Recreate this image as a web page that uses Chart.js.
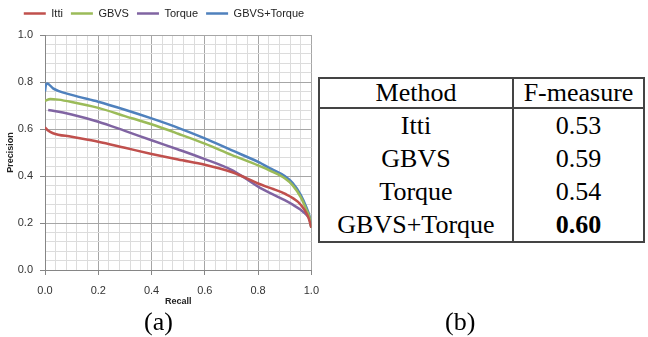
<!DOCTYPE html>
<html>
<head>
<meta charset="utf-8">
<script src="https://cdn.jsdelivr.net/npm/chart.js@4.4.1/dist/chart.umd.min.js"></script>
<style>
body { margin: 0; background: #fff; width: 648px; height: 337px; overflow: hidden; position: relative; }
#chartbox { position: absolute; left: 0; top: 0; width: 328px; height: 312px; }
#results { position: absolute; left: 318px; top: 77px; border-collapse: collapse; font-family: 'Liberation Serif', serif; font-size: 26px; color: #000; background: #fff; }
#results td { border-left: 2px solid #444; border-right: 2px solid #444; padding: 0; text-align: center; height: 33px; line-height: 33px; }
#results tr:first-child td { border-top: 2px solid #444; border-bottom: 2px solid #444; height: 28px; line-height: 28px; }
#results tr:last-child td { border-bottom: 2px solid #444; }
.cap { position: absolute; top: 307px; font-family: 'Liberation Serif', serif; font-size: 26px; }
</style>
</head>
<body>
<div id="chartbox"><canvas id="mygraph"></canvas></div>
<table id="results"></table>
<div class="cap" style="left:144px">(a)</div>
<div class="cap" style="left:445px">(b)</div>
<script>
// precision / recall curves
const ittiRecall = [0, 0.01, 0.03, 0.1, 0.2, 0.3, 0.4, 0.5, 0.6, 0.7, 0.75, 0.8, 0.85, 0.9, 0.95, 0.975, 0.99, 1.0];
const ittiPrecision = [0.607, 0.595, 0.582, 0.567, 0.546, 0.52, 0.494, 0.47, 0.448, 0.417, 0.394, 0.368, 0.347, 0.325, 0.29, 0.255, 0.22, 0.18];

const gbvsRecall = [0, 0.02, 0.05, 0.1, 0.2, 0.3, 0.4, 0.5, 0.6, 0.7, 0.8, 0.85, 0.9, 0.93, 0.96, 0.98, 0.995, 1.0];
const gbvsPrecision = [0.72, 0.728, 0.725, 0.715, 0.69, 0.655, 0.62, 0.58, 0.538, 0.49, 0.445, 0.42, 0.39, 0.36, 0.31, 0.26, 0.215, 0.18];

const torqueRecall = [0.012, 0.03, 0.1, 0.2, 0.3, 0.4, 0.5, 0.6, 0.7, 0.75, 0.8, 0.85, 0.9, 0.93, 0.96, 0.98, 0.995, 1.0];
const torquePrecision = [0.681, 0.678, 0.662, 0.631, 0.592, 0.552, 0.513, 0.472, 0.426, 0.392, 0.355, 0.325, 0.297, 0.278, 0.256, 0.236, 0.21, 0.18];

const bothRecall = [0, 0.003, 0.008, 0.03, 0.1, 0.2, 0.3, 0.4, 0.5, 0.6, 0.7, 0.8, 0.85, 0.9, 0.93, 0.96, 0.98, 0.995, 1.0];
const bothPrecision = [0.76, 0.785, 0.794, 0.773, 0.745, 0.716, 0.682, 0.645, 0.605, 0.56, 0.51, 0.46, 0.43, 0.40, 0.37, 0.32, 0.27, 0.22, 0.18];

// table (b)
const methods = ['Itti', 'GBVS', 'Torque', 'GBVS+Torque'];
const fmeasure = ['0.53', '0.59', '0.54', '0.60'];

const toPts = (xs, ys) => xs.map((x, i) => ({x: x, y: ys[i]}));
const isMajor = v => Math.abs(v * 5 - Math.round(v * 5)) < 1e-6;

function ds(label, xs, ys, color) {
    return {label: label, data: toPts(xs, ys), borderColor: color, backgroundColor: color,
            borderWidth: 2.5, pointRadius: 0, cubicInterpolationMode: 'monotone', fill: false};
}

const tickFont = {family: 'Liberation Sans', size: 11};
const grid = {
    color: c => isMajor(c.tick.value) ? '#a6a6a6' : '#dcdcdc',
    tickColor: c => isMajor(c.tick.value) ? '#868686' : 'rgba(0,0,0,0)',
    tickLength: 5
};

const xAxis = {
    type: 'linear', min: 0, max: 1,
    ticks: {stepSize: 0.04, autoSkip: false, maxRotation: 0, padding: 9, color: '#333', font: tickFont,
            callback: v => isMajor(v) ? v.toFixed(1) : ''},
    grid: grid,
    border: {color: '#868686'},
    title: {display: true, text: 'Recall', color: '#222', font: {family: 'Liberation Sans', size: 9, weight: 'bold'}, padding: {top: 0, bottom: 5}},
    afterFit: s => { s.height = 42; }
};
const yAxis = {
    min: 0, max: 1,
    ticks: {stepSize: 0.04, autoSkip: false, padding: 7, color: '#333', font: tickFont,
            callback: v => isMajor(v) ? v.toFixed(1) : ''},
    grid: grid,
    border: {color: '#868686'},
    title: {display: true, text: 'Precision', color: '#222', font: {family: 'Liberation Sans', size: 9, weight: 'bold'}, padding: {top: 5, bottom: 0}},
    afterFit: s => { s.width = 45; }
};

// keep the legend strip a fixed height so the plot starts where the figure's does
const legendHeight = {
    id: 'legendHeight',
    beforeInit(chart) {
        const fit = chart.legend.fit;
        chart.legend.fit = function () { fit.call(this); this.height = 35; };
    }
};

const ctx = document.getElementById('mygraph').getContext('2d');
const chart = new Chart(ctx, {
    type: 'line',
    data: {datasets: [
        ds('Itti', ittiRecall, ittiPrecision, '#c0504d'),
        ds('GBVS', gbvsRecall, gbvsPrecision, '#9bbb59'),
        ds('Torque', torqueRecall, torquePrecision, '#8064a2'),
        ds('GBVS+Torque', bothRecall, bothPrecision, '#4f81bd')
    ]},
    options: {
        responsive: true, maintainAspectRatio: false, animation: {duration: 0},
        layout: {padding: {top: 0, right: 0, left: 0, bottom: 0}},
        plugins: {
            legend: {position: 'top', labels: {usePointStyle: true, pointStyle: 'line', pointStyleWidth: 22,
                     padding: 8, color: '#222', font: tickFont}},
            tooltip: {enabled: false}
        },
        scales: {x: xAxis, y: yAxis}
    },
    plugins: [legendHeight]
});

const tbl = document.getElementById('results');
let html = '<tr><td style="width:192px">Method</td><td style="width:129px">F-measure</td></tr>';
methods.forEach((m, i) => {
    const f = i === methods.length - 1 ? '<b>' + fmeasure[i] + '</b>' : fmeasure[i];
    html += '<tr><td>' + m + '</td><td>' + f + '</td></tr>';
});
tbl.innerHTML = html;
</script>
</body>
</html>
